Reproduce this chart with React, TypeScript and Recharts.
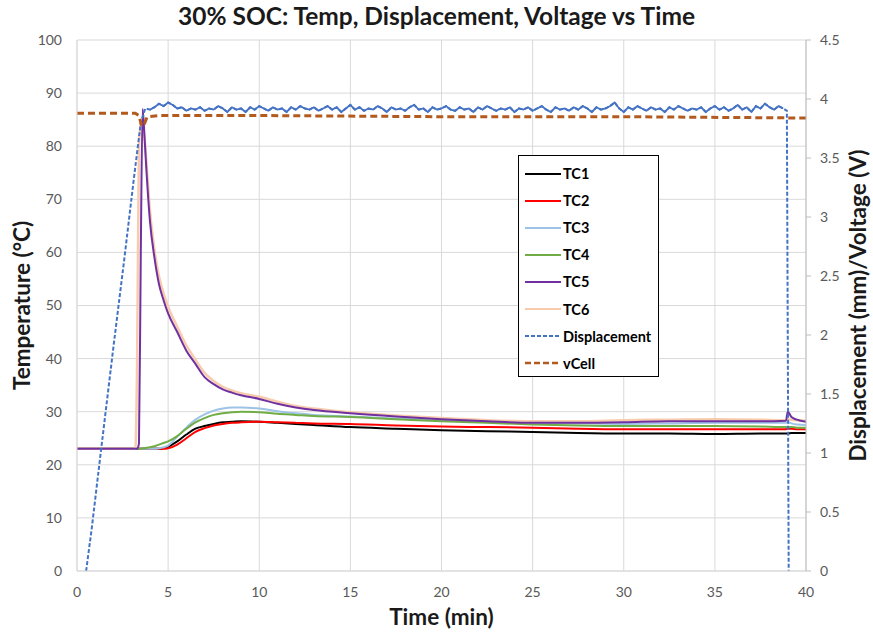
import { ComposedChart, Line, XAxis, YAxis, CartesianGrid, Legend } from "recharts";

// temperature samples (min)
const TEMP_TIME = [0, 3.2, 3.3, 3.4, 3.5, 3.6, 3.7, 3.8, 4, 4.25, 4.5, 4.75, 5, 5.5, 6, 6.5, 7, 7.5, 8, 8.5, 9, 10, 11, 12, 13, 15, 17.5, 20, 22.5, 25, 27.5, 30, 32.5, 35, 37.5, 38.9, 39, 39.2, 39.5, 40];
const TC1 = [23, 23, 23, 23, 23, 23, 23, 23, 23, 23, 23, 23.1, 23.4, 24.4, 25.7, 26.8, 27.3, 27.7, 28, 28.1, 28.2, 28.1, 27.9, 27.7, 27.5, 27.1, 26.8, 26.5, 26.3, 26.2, 26, 25.9, 25.9, 25.8, 25.9, 25.9, 25.9, 26, 26, 26];
const TC2 = [23, 23, 23, 23, 23, 23, 23, 23, 23, 23, 23, 23, 23.1, 23.8, 25, 26.2, 26.9, 27.4, 27.7, 27.9, 28, 28.1, 28, 27.9, 27.8, 27.7, 27.4, 27.2, 27.1, 27, 26.8, 26.7, 26.7, 26.7, 26.7, 26.7, 26.8, 26.8, 26.7, 26.7];
const TC3 = [23, 23, 23, 23, 23, 23, 23, 23, 23, 23, 23.1, 23.3, 23.6, 25.3, 27, 28.5, 29.5, 30.2, 30.6, 30.8, 30.8, 30.6, 30.1, 29.7, 29.4, 29.1, 28.7, 28.4, 28.1, 27.9, 27.8, 27.7, 27.8, 27.9, 27.9, 27.9, 28, 27.8, 27.6, 27.5];
const TC4 = [23, 23, 23, 23, 23, 23.1, 23.1, 23.2, 23.3, 23.5, 23.8, 24.1, 24.4, 25.4, 26.8, 28, 28.8, 29.4, 29.7, 29.9, 30, 29.9, 29.6, 29.4, 29.2, 29, 28.6, 28.2, 27.9, 27.6, 27.4, 27.3, 27.3, 27.3, 27.2, 27.1, 27.1, 27.1, 27, 27];
const TC5 = [23, 23, 23, 24, 60, 87, 82, 76, 66, 59, 54, 51, 48.5, 45, 41.5, 39, 36.5, 35.2, 34.2, 33.6, 33.1, 32.4, 31.5, 30.8, 30.3, 29.7, 29.1, 28.6, 28.2, 27.9, 27.9, 28, 28.2, 28.2, 28.2, 28.3, 30, 29, 28.5, 28.1];
const TC6 = [23, 23, 40, 80, 84, 84.5, 82, 77.5, 68, 60.5, 55.5, 52.3, 49.8, 46, 42.5, 39.8, 37.3, 35.8, 34.7, 34, 33.5, 32.8, 31.9, 31.1, 30.6, 29.9, 29.3, 28.8, 28.4, 28.2, 28.2, 28.4, 28.5, 28.6, 28.5, 28.4, 28.6, 28.5, 28.4, 28.3];

// displacement (mm): ramp, noisy plateau every 0.25 min from 4.0, drop
const DISP_RISE_TIME = [0.5, 0.8, 1.3, 2.0, 2.6, 3.1, 3.5, 3.75];
const DISP_RISE = [0, 0.35, 1.0, 1.9, 2.65, 3.3, 3.8, 3.92];
const DISP_PLATEAU_START = 4;
const DISP_PLATEAU = [
  3.91, 3.93, 3.96, 3.94, 3.97, 3.95, 3.92, 3.93, 3.9, 3.92, 3.91, 3.93, 3.9, 3.92, 3.91, 3.94, 3.92, 3.89, 3.93, 3.91,
  3.92, 3.89, 3.93, 3.91, 3.94, 3.92, 3.9, 3.93, 3.91, 3.92, 3.89, 3.93, 3.91, 3.94, 3.92, 3.91, 3.93, 3.9, 3.92, 3.94,
  3.91, 3.93, 3.89, 3.92, 3.95, 3.91, 3.93, 3.9, 3.92, 3.91, 3.94, 3.92, 3.89, 3.93, 3.91, 3.92, 3.9, 3.93, 3.95, 3.91,
  3.92, 3.89, 3.93, 3.91, 3.92, 3.94, 3.91, 3.9, 3.93, 3.91, 3.92, 3.89, 3.93, 3.91, 3.94, 3.92, 3.9, 3.92, 3.91, 3.93,
  3.89, 3.92, 3.91, 3.93, 3.9, 3.92, 3.94, 3.91, 3.89, 3.93, 3.91, 3.92, 3.9, 3.93, 3.91, 3.94, 3.92, 3.89, 3.93, 3.91,
  3.92, 3.94, 3.97, 3.92, 3.89, 3.93, 3.91, 3.94, 3.92, 3.9, 3.93, 3.91, 3.92, 3.89, 3.93, 3.91, 3.94, 3.92, 3.9, 3.92,
  3.91, 3.93, 3.89, 3.92, 3.94, 3.91, 3.93, 3.9, 3.92, 3.95, 3.91, 3.93, 3.89, 3.94, 3.92, 3.96, 3.93, 3.91, 3.94, 3.92,
];
const DISP_DROP_TIME = [38.95, 39.05];
const DISP_DROP = [3.9, 0];

// cell voltage (V)
const VCELL_TIME = [0, 3.2, 3.4, 3.55, 3.7, 3.85, 4.5, 10, 20, 30, 39, 40];
const VCELL = [3.88, 3.88, 3.86, 3.77, 3.79, 3.85, 3.86, 3.86, 3.85, 3.85, 3.84, 3.84];

const X_TICKS = [0, 5, 10, 15, 20, 25, 30, 35, 40];
const TEMP_TICKS = [0, 10, 20, 30, 40, 50, 60, 70, 80, 90, 100];
const RIGHT_TICKS = [0, 0.5, 1, 1.5, 2, 2.5, 3, 3.5, 4, 4.5];

const tempData = TEMP_TIME.map((t, i) => ({
  t,
  tc1: TC1[i],
  tc2: TC2[i],
  tc3: TC3[i],
  tc4: TC4[i],
  tc5: TC5[i],
  tc6: TC6[i],
}));

const plateauData = DISP_PLATEAU.map((d, i) => ({ t: DISP_PLATEAU_START + i * 0.25, d }));

const dispData = [
  ...DISP_RISE_TIME.map((t, i) => ({ t, d: DISP_RISE[i] })),
  ...plateauData,
  ...DISP_DROP_TIME.map((t, i) => ({ t, d: DISP_DROP[i] })),
];

const vcellData = VCELL_TIME.map((t, i) => ({ t, v: VCELL[i] }));

const LEGEND_ITEMS = [
  { name: "TC1", color: "#000000", dash: "" },
  { name: "TC2", color: "#ff0000", dash: "" },
  { name: "TC3", color: "#9dc3e6", dash: "" },
  { name: "TC4", color: "#70ad47", dash: "" },
  { name: "TC5", color: "#7030a0", dash: "" },
  { name: "TC6", color: "#f8cbad", dash: "" },
  { name: "Displacement", color: "#4472c4", dash: "4 2" },
  { name: "vCell", color: "#b35a1f", dash: "6 3" },
];

const FONT = "Lato, 'Open Sans', sans-serif";
const tickStyle = { fill: "#595959", fontSize: 14, fontFamily: FONT };
const axisTitle = { fontFamily: FONT, fontWeight: 700, fontSize: 22.5, fill: "#1a1a1a" };

function LegendBox() {
  return (
    <div
      style={{
        width: 139,
        height: 216,
        border: "1px solid #000",
        background: "#fff",
        boxSizing: "content-box",
        paddingTop: 4,
      }}
    >
      {LEGEND_ITEMS.map((it) => (
        <div key={it.name} style={{ display: "flex", alignItems: "center", height: 27.1 }}>
          <svg width={44} height={10} style={{ marginLeft: 6 }}>
            <line
              x1={0}
              x2={36}
              y1={5}
              y2={5}
              stroke={it.color}
              strokeWidth={it.name === "vCell" ? 2.5 : 2}
              strokeDasharray={it.dash || undefined}
            />
          </svg>
          <span style={{ fontFamily: FONT, fontWeight: 700, fontSize: 14.5, color: "#000", marginLeft: -6 }}>
            {it.name}
          </span>
        </div>
      ))}
    </div>
  );
}

export default function App() {
  return (
    <div style={{ position: "absolute", left: 0, top: 0, width: 873, height: 632, background: "#fff" }}>
      <div
        style={{
          position: "absolute",
          top: 1,
          left: 0,
          width: 873,
          textAlign: "center",
          fontFamily: FONT,
          fontWeight: 700,
          fontSize: 24.5,
          color: "#1a1a1a",
          zIndex: 2,
        }}
      >
        30% SOC: Temp, Displacement, Voltage vs Time
      </div>
      <ComposedChart width={873} height={632} margin={{ top: 40, right: 0, bottom: 0, left: 0 }}>
        <CartesianGrid yAxisId="left" stroke="#d9d9d9" strokeWidth={1} />
        <XAxis
          dataKey="t"
          type="number"
          domain={[0, 40]}
          ticks={X_TICKS}
          allowDataOverflow
          height={61}
          tickLine={false}
          tickSize={0}
          tickMargin={16}
          axisLine={{ stroke: "#d9d9d9" }}
          tick={tickStyle}
          label={{ value: "Time (min)", position: "insideBottom", offset: 7, style: axisTitle }}
        />
        <YAxis
          yAxisId="left"
          domain={[0, 100]}
          ticks={TEMP_TICKS}
          width={77}
          tickLine={false}
          tickSize={0}
          tickMargin={15}
          axisLine={{ stroke: "#d9d9d9" }}
          tick={tickStyle}
          label={{
            value: "Temperature (°C)",
            angle: -90,
            position: "insideLeft",
            offset: 22,
            style: { ...axisTitle, textAnchor: "middle" },
          }}
        />
        <YAxis
          yAxisId="right"
          orientation="right"
          domain={[0, 4.5]}
          ticks={RIGHT_TICKS}
          width={67}
          tickSize={5}
          tickMargin={9}
          tickLine={{ stroke: "#bfbfbf" }}
          axisLine={{ stroke: "#bfbfbf" }}
          tick={{ ...tickStyle, textAnchor: "start" }}
          label={{
            value: "Displacement (mm)/Voltage (V)",
            angle: -90,
            position: "insideRight",
            offset: 15,
            style: { ...axisTitle, textAnchor: "middle" },
          }}
        />
        <Legend
          layout="vertical"
          align="center"
          verticalAlign="middle"
          content={() => <LegendBox />}
          wrapperStyle={{ left: 518, top: 155, width: 141, height: 222 }}
        />
        <Line yAxisId="left" data={tempData} dataKey="tc1" name="TC1" type="monotone" stroke="#000000" strokeWidth={2} dot={false} isAnimationActive={false} />
        <Line yAxisId="left" data={tempData} dataKey="tc2" name="TC2" type="monotone" stroke="#ff0000" strokeWidth={2} dot={false} isAnimationActive={false} />
        <Line yAxisId="left" data={tempData} dataKey="tc3" name="TC3" type="monotone" stroke="#9dc3e6" strokeWidth={2} dot={false} isAnimationActive={false} />
        <Line yAxisId="left" data={tempData} dataKey="tc4" name="TC4" type="monotone" stroke="#70ad47" strokeWidth={2} dot={false} isAnimationActive={false} />
        <Line yAxisId="left" data={tempData} dataKey="tc6" name="TC6" type="monotone" stroke="#f8cbad" strokeWidth={2.5} dot={false} isAnimationActive={false} />
        <Line yAxisId="left" data={tempData} dataKey="tc5" name="TC5" type="monotone" stroke="#7030a0" strokeWidth={2} dot={false} isAnimationActive={false} />
        <Line yAxisId="right" data={dispData} dataKey="d" name="Displacement" type="linear" stroke="#4472c4" strokeWidth={2} strokeDasharray="4 2" dot={false} isAnimationActive={false} />
        {/* dense noisy stretch renders solid, as the dash pattern restarts per segment */}
        <Line yAxisId="right" data={plateauData} dataKey="d" name="Displacement" legendType="none" type="linear" stroke="#4472c4" strokeWidth={1.8} dot={false} isAnimationActive={false} />
        <Line yAxisId="right" data={vcellData} dataKey="v" name="vCell" type="linear" stroke="#b35a1f" strokeWidth={3} strokeDasharray="7 4" dot={false} isAnimationActive={false} />
      </ComposedChart>
    </div>
  );
}
